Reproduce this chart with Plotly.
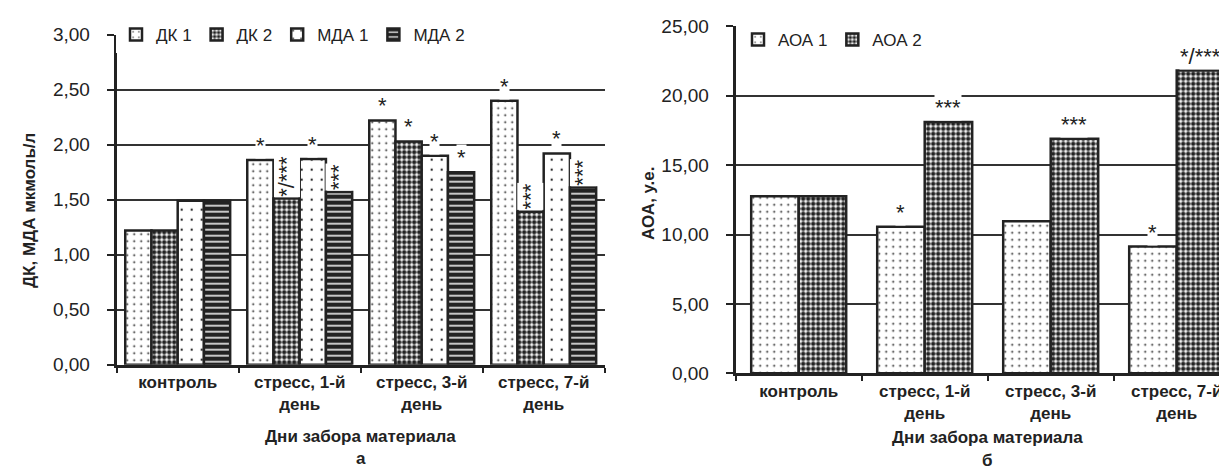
import plotly.graph_objects as go

W, H = 1227, 472

categories = ["контроль", "стресс, 1-й<br>день", "стресс, 3-й<br>день", "стресс, 7-й<br>день"]

dk1 = [1.22, 1.86, 2.22, 2.40]
dk2 = [1.22, 1.51, 2.03, 1.39]
mda1 = [1.49, 1.87, 1.90, 1.92]
mda2 = [1.49, 1.57, 1.75, 1.61]

aoa1 = [12.76, 10.56, 10.96, 9.13]
aoa2 = [12.76, 18.11, 16.89, 21.81]

sig_dk1 = ["", "*", "*", "*"]
sig_dk2 = ["", "*/***", "*", "***"]
sig_mda1 = ["", "*", "*", "*"]
sig_mda2 = ["", "***", "*", "***"]
sig_aoa1 = ["", "*", "", "*"]
sig_aoa2 = ["", "***", "***", "*/***"]

left_ticks = [0, 0.5, 1.0, 1.5, 2.0, 2.5, 3.0]
right_ticks = [0, 5, 10, 15, 20, 25]

FONT = "Arial, Liberation Sans, sans-serif"
INK = "#222222"

def px_x(p):
    return p / W

def px_y(p):
    return (H - p) / H

dots = dict(shape=".", fgcolor=INK, bgcolor="white", size=7, solidity=0.06, fillmode="replace")
checker = dict(shape=".", fgcolor=INK, bgcolor="white", size=5, solidity=0.62, fillmode="replace")
chevrons = dict(shape=".", fgcolor=INK, bgcolor="white", size=10, solidity=0.04, fillmode="replace")
bricks = dict(shape="-", fgcolor="white", bgcolor=INK, size=6, solidity=0.25, fillmode="replace")

fig = go.Figure()

left_series = [("ДК 1", dk1, dots, sig_dk1), ("ДК 2", dk2, checker, sig_dk2),
               ("МДА 1", mda1, chevrons, sig_mda1), ("МДА 2", mda2, bricks, sig_mda2)]
right_series = [("АОА 1", aoa1, dots, sig_aoa1), ("АОА 2", aoa2, checker, sig_aoa2)]

LEFT_GAP = 0.14
RIGHT_GAP = 0.246

for name, vals, pat, _ in left_series:
    fig.add_trace(go.Bar(name=name, x=categories, y=vals, xaxis="x", yaxis="y",
                         marker=dict(color="white", pattern=pat, line=dict(color=INK, width=2.5)),
                         legend="legend"))
for i, (name, vals, pat, _) in enumerate(right_series):
    bw = (1 - RIGHT_GAP) / len(right_series)
    fig.add_trace(go.Bar(name=name, x=categories, y=vals, xaxis="x2", yaxis="y2",
                         width=bw, offset=-(1 - RIGHT_GAP) / 2 + i * bw,
                         marker=dict(color="white", pattern=pat, line=dict(color=INK, width=2.5)),
                         legend="legend2"))

annotations = []

def add_sig(series, gap, xref, yref, vertical_ok):
    n = len(series)
    bw = (1 - gap) / n
    for i, (name, vals, pat, sig) in enumerate(series):
        for c, (v, s) in enumerate(zip(vals, sig)):
            if not s:
                continue
            xpos = c - (1 - gap) / 2 + (i + 0.5) * bw
            vert = vertical_ok and len(s) > 1
            annotations.append(dict(x=xpos, y=v, xref=xref, yref=yref, text=s, showarrow=False,
                                    yanchor="bottom", xanchor="center", yshift=1,
                                    textangle=-90 if vert else 0,
                                    bgcolor="white", borderpad=0,
                                    font=dict(family=FONT, size=22, color=INK)))

add_sig(left_series, LEFT_GAP, "x", "y", True)
add_sig(right_series, RIGHT_GAP, "x2", "y2", False)

bold = dict(family=FONT, size=17, color=INK, weight="bold")
annotations += [
    dict(x=px_x(22), y=px_y(203), xref="paper", yref="paper", text="ДК, МДА мкмоль/л", textangle=-90,
         showarrow=False, font=bold, xanchor="center", yanchor="middle"),
    dict(x=px_x(640), y=px_y(196), xref="paper", yref="paper", text="АОА, у.е.", textangle=-90,
         showarrow=False, font=bold, xanchor="center", yanchor="middle"),
    dict(x=px_x(352.7), y=px_y(428), xref="paper", yref="paper", text="Дни забора материала",
         showarrow=False, font=bold, xanchor="center", yanchor="middle"),
    dict(x=px_x(979.7), y=px_y(429), xref="paper", yref="paper", text="Дни забора материала",
         showarrow=False, font=bold, xanchor="center", yanchor="middle"),
    dict(x=px_x(352.7), y=px_y(450), xref="paper", yref="paper", text="а",
         showarrow=False, font=bold, xanchor="center", yanchor="middle"),
    dict(x=px_x(979.7), y=px_y(452), xref="paper", yref="paper", text="б",
         showarrow=False, font=bold, xanchor="center", yanchor="middle"),
]

xaxis_common = dict(type="category", showline=True, linewidth=3, linecolor=INK, ticks="outside",
                    tickson="boundaries", ticklen=5, tickwidth=2, tickcolor=INK, showgrid=False,
                    tickfont=dict(family=FONT, size=17, color=INK, weight="bold"), automargin=False,
                    fixedrange=True)
yaxis_common = dict(showline=True, linewidth=3, linecolor=INK, ticks="outside", ticklen=7, tickwidth=2,
                    tickcolor=INK, showgrid=True, gridcolor="#333333", gridwidth=1.5, zeroline=False,
                    tickformat=".2f", tickmode="array",
                    tickfont=dict(family=FONT, size=19, color=INK), ticklabelstandoff=13,
                    automargin=False, fixedrange=True)

fig.update_layout(
    width=W, height=H, margin=dict(l=0, r=0, t=0, b=0),
    paper_bgcolor="white", plot_bgcolor="white",
    separators=", ",
    barmode="group", bargap=LEFT_GAP, bargroupgap=0,
    font=dict(family=FONT, color=INK),
    xaxis=dict(**xaxis_common, domain=[px_x(108.7), px_x(596.7)], anchor="y", range=[-0.5, 3.5]),
    yaxis=dict(**yaxis_common, domain=[px_y(356.7), px_y(26.7)], anchor="x", range=[0, 3],
               tickvals=left_ticks),
    xaxis2=dict(**xaxis_common, domain=[px_x(727.7), 1.0], anchor="y2",
                range=[-0.5, 3.5 - (1231.7 - W) / 126.0]),
    yaxis2=dict(**yaxis_common, domain=[px_y(365.3), px_y(18.3)], anchor="x2", range=[0, 25],
                tickvals=right_ticks),
    legend=dict(orientation="h", x=px_x(108), y=px_y(27), xanchor="left", yanchor="middle",
                bgcolor="white", font=dict(family=FONT, size=17, color=INK), itemwidth=30,
                traceorder="normal"),
    legend2=dict(orientation="h", x=px_x(730), y=px_y(32), xanchor="left", yanchor="middle",
                 bgcolor="white", font=dict(family=FONT, size=17, color=INK), itemwidth=30,
                 traceorder="normal"),
    annotations=annotations,
    showlegend=True,
)

fig.write_html("out.html")
